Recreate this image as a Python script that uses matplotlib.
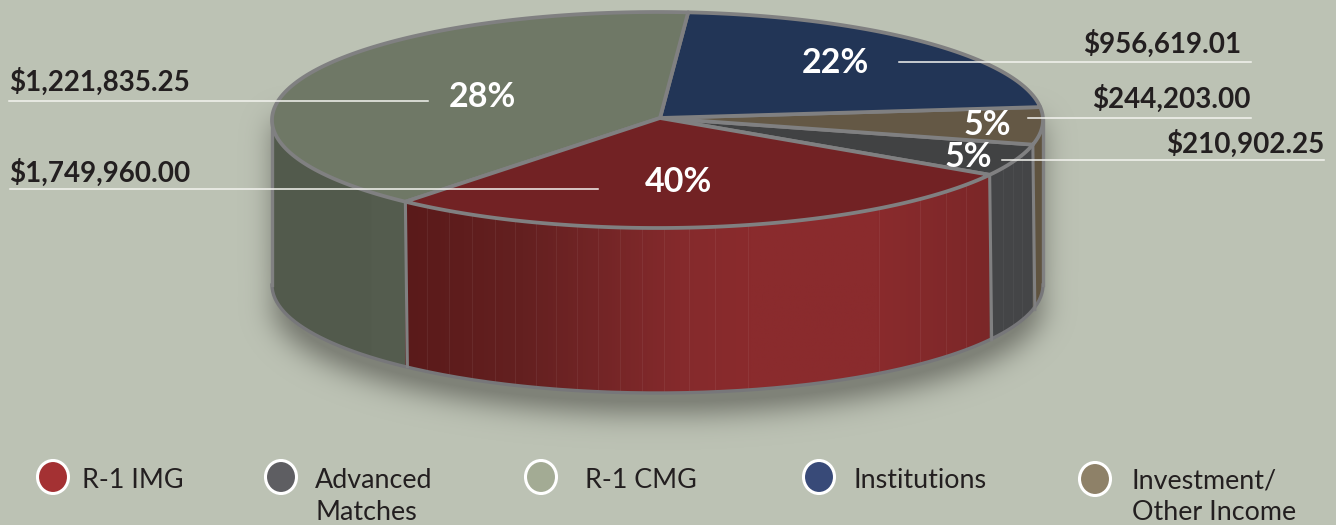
import numpy as np
import matplotlib
matplotlib.use('Agg')
import matplotlib.pyplot as plt
from matplotlib.colors import LinearSegmentedColormap, to_rgb
from matplotlib.patches import Ellipse, Polygon

# slices, counter-clockwise from the grey one
slice_names = ['Advanced Matches', 'Investment/Other Income', 'Institutions', 'R-1 CMG', 'R-1 IMG']
slice_amounts = [210902.25, 244203.00, 956619.01, 1749960.00, 1221835.25]
top_colors = ['#414243', '#645845', '#223556', '#6f7866', '#722224']
wall_colors = ['#444547', '#5f533f', '#223556', '#525a4c', '#7a2628']

amount_labels = ['$1,221,835.25', '$1,749,960.00', '$956,619.01', '$244,203.00', '$210,902.25']
percent_labels = ['28%', '40%', '22%', '5%', '5%']

legend_labels = ['R-1 IMG', 'Advanced\nMatches', 'R-1 CMG', 'Institutions', 'Investment/\nOther Income']
legend_colors = ['#a43133', '#5e5e62', '#a3ab94', '#384a78', '#8e8168']

BG = '#bcc2b4'
EDGE = '#808081'
TEXT = '#231f20'
FONT = 'Lato'

# pie geometry, in pixels
CX, CY, A, B = 657.5, 120, 385.5, 108
APEX = (660, 118)
DEPTH = 165
START = -30.5

fig = plt.figure(figsize=(13.36, 5.25), dpi=100, facecolor=BG)
ax = fig.add_axes([0, 0, 1, 1])


def rim(t, depth=0):
    t = np.radians(t)
    return np.column_stack([CX + A * np.cos(t), CY + depth - B * np.sin(t)])


def wall_shape(t0, t1):
    ts = np.linspace(t0, t1, 80)
    return np.vstack([rim(ts), rim(ts[::-1], DEPTH)])


# angles of the slices
sweeps = np.array(slice_amounts) / sum(slice_amounts) * 360
edges = START + np.concatenate([[0], np.cumsum(sweeps)])
green_red = edges[4]
red_grey = edges[0] + 360
grey_brown = edges[1] + 360

# soft shadow under the pie
yy, xx = np.mgrid[0:525, 0:1336]
mask = (((xx - CX) / A) ** 2 + ((yy - CY - DEPTH - 20) / B) ** 2 <= 1).astype(float)
mask[(np.abs(xx - CX) <= A - 2) & (yy > CY) & (yy < CY + DEPTH)] = 1
kernel = np.exp(-0.5 * (np.arange(-42, 43) / 14) ** 2)
kernel /= kernel.sum()
for axis in (0, 1):
    mask = np.apply_along_axis(lambda m: np.convolve(m, kernel, mode='same'), axis, mask)
shadow = np.zeros((525, 1336, 4))
shadow[..., :3] = to_rgb('#7f8278')
shadow[..., 3] = np.clip(mask * 1.25, 0, 1)
ax.imshow(shadow, extent=(0, 1336, 525, 0), zorder=1, aspect='auto')

# side walls
ax.add_patch(Polygon(wall_shape(180, green_red), closed=True, fc=wall_colors[3], ec='none', zorder=2))
ax.add_patch(Polygon(wall_shape(222, green_red), closed=True, fc='#545c4e', ec='none', zorder=2.1))
ax.add_patch(Polygon(wall_shape(red_grey, grey_brown), closed=True, fc=wall_colors[0], ec='none', zorder=2))
ax.add_patch(Polygon(wall_shape(grey_brown, 360), closed=True, fc=wall_colors[1], ec='none', zorder=2))

# red wall has a left-right gradient
red_stops = [(0, '#5a1a1a'), (0.2, '#642020'), (0.33, '#732526'), (0.47, '#852a2c'),
             (0.59, '#8a2b2d'), (0.81, '#8a2b2d'), (1, '#7b2728')]
red_cmap = LinearSegmentedColormap.from_list('red_wall', red_stops)
red_img = ax.imshow(np.linspace(0, 1, 256)[None, :], cmap=red_cmap, vmin=0, vmax=1,
                    extent=(405, 990, 400, 170), zorder=2.2, aspect='auto')
red_clip = Polygon(wall_shape(green_red, red_grey), closed=True, transform=ax.transData)
red_img.set_clip_path(red_clip)

# thin facet lines on the walls
for fx in [427, 449, 472, 495, 515, 536, 556, 577, 598, 620, 642, 664, 689, 715, 748, 879, 920, 946, 966]:
    t = 360 - np.degrees(np.arccos((fx - CX) / A))
    y0, y1 = rim(t)[0, 1], rim(t, DEPTH)[0, 1]
    ax.plot([fx, fx], [y0, y1], color='#ffffff', alpha=0.06, lw=0.8, zorder=2.3)
for fx in [1003, 1013, 1022]:
    t = 360 - np.degrees(np.arccos((fx - CX) / A))
    y0, y1 = rim(t)[0, 1], rim(t, DEPTH)[0, 1]
    ax.plot([fx, fx], [y0, y1], color='#ffffff', alpha=0.04, lw=0.8, zorder=2.3)

# wall outlines
ts = np.linspace(180, 360, 200)
ax.plot(rim(ts, DEPTH)[:, 0], rim(ts, DEPTH)[:, 1], color='#77777a', lw=2.4, zorder=3)
ax.plot([CX - A, CX - A], [CY, CY + DEPTH], color=EDGE, lw=2.4, zorder=3)
ax.plot([CX + A, CX + A], [CY, CY + DEPTH], color=EDGE, lw=2.4, zorder=3)
for t in [green_red, red_grey, grey_brown]:
    p0, p1 = rim(t)[0], rim(t, DEPTH)[0]
    ax.plot([p0[0], p1[0] + 2], [p0[1], p1[1]], color=EDGE, lw=2.2, zorder=3)

# top of the pie
for i in range(len(slice_amounts)):
    arc = rim(np.linspace(edges[i], edges[i + 1], 120))
    pts = np.vstack([[APEX], arc])
    ax.add_patch(Polygon(pts, closed=True, fc=top_colors[i], ec=EDGE, lw=2.7, joinstyle='round', zorder=4))

# leader lines
leaders = [(9, 428, 101), (10, 598, 189), (899, 1251, 61.7), (1028, 1251, 117.5), (1002, 1324, 160)]
for x0, x1, y in leaders:
    ax.plot([x0, x1], [y, y], color='#f4f4f0', lw=1.1, zorder=5)

# amounts
amount_pos = [(9, 91, 'left'), (9, 182, 'left'), (1241, 53, 'right'), (1251, 108, 'right'), (1324, 153, 'right')]
for label, (x, y, ha) in zip(amount_labels, amount_pos):
    ax.text(x, y, label, ha=ha, va='baseline', fontsize=20, fontweight='bold', family=FONT,
            color=TEXT, zorder=6)

# percents
percent_pos = [(482, 97), (678, 182), (835, 63), (987, 125), (968, 157)]
for label, (x, y) in zip(percent_labels, percent_pos):
    ax.text(x, y, label, ha='center', va='center', fontsize=24.5, fontweight='bold', family=FONT,
            color='white', zorder=6)

# legend
legend_dots = [(53, 477), (281, 477), (541, 477), (819, 477), (1095, 479)]
legend_text_x = [82, 315, 585, 854, 1132]
for label, color, (x, y), tx in zip(legend_labels, legend_colors, legend_dots, legend_text_x):
    ax.add_patch(Ellipse((x, y), 31, 33, fc=color, ec='white', lw=2.2, zorder=6))
    for k, line in enumerate(label.split('\n')):
        ax.text(tx, 481 + 31.5 * k, line, ha='left', va='center', fontsize=19.4, family=FONT,
                color=TEXT, zorder=6)

ax.set_xlim(0, 1336)
ax.set_ylim(525, 0)
ax.axis('off')

fig.savefig('out.png', dpi=100, facecolor=BG)
